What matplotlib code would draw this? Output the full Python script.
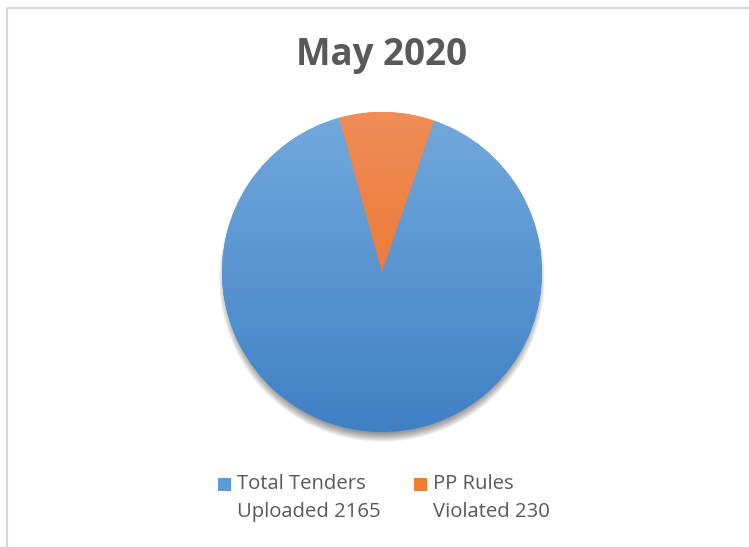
import numpy as np
import matplotlib.pyplot as plt
from matplotlib.patches import Circle, Rectangle
import matplotlib.colors as mcolors

# data
labels = ['Total Tenders\nUploaded 2165', 'PP Rules\nViolated 230']
values = [2165, 230]
colors_top = ['#72a9dc', '#f08d58']
colors_bot = ['#3f80c5', '#e8691a']
legend_colors = ['#5b9bd5', '#ed7d31']
title = 'May 2020'

W, H = 749, 547
fig = plt.figure(figsize=(W / 100, H / 100), dpi=100)
ax = fig.add_axes([0, 0, 1, 1])
ax.set_xlim(0, W)
ax.set_ylim(0, H)
ax.set_aspect('equal')
ax.axis('off')

cx, cy, r = 382, H - 272, 160

# soft shadow under the pie
for i in range(16):
    ax.add_patch(Circle((cx, cy - 7), r + 3 - i * 0.7, color='black',
                        alpha=0.035, lw=0, zorder=1))

wedges, _ = ax.pie(values, radius=r, center=(cx, cy), startangle=71,
                   counterclock=False, frame=True,
                   wedgeprops=dict(linewidth=0), colors=legend_colors)
ax.set_xlim(0, W)
ax.set_ylim(0, H)
ax.axis('off')

# vertical gradients clipped to each wedge
for w, ct, cb in zip(wedges, colors_top, colors_bot):
    cmap = mcolors.LinearSegmentedColormap.from_list('g', [cb, ct])
    grad = np.linspace(0, 1, 256).reshape(-1, 1)
    im = ax.imshow(grad, cmap=cmap, origin='lower', aspect='auto',
                   extent=[cx - r, cx + r, cy - r, cy + r], zorder=3)
    im.set_clip_path(w)
    w.set_zorder(2)

ax.set_xlim(0, W)
ax.set_ylim(0, H)

# chart border (left and top only visible)
ax.plot([6.5, 6.5, W], [0, H - 7.5, H - 7.5], color='#d9d9d9', lw=1.5,
        solid_joinstyle='miter', zorder=5)

ax.text(382, H - 55, title, ha='center', va='center', fontsize=26.5,
        fontweight='bold', color='#595959', family='Open Sans')

# legend
lx = [218, 414]
for x0, lab, c in zip(lx, labels, legend_colors):
    ax.add_patch(Rectangle((x0, H - 491), 13, 13, color=c, lw=0, zorder=5))
    l1, l2 = lab.split('\n')
    ax.text(x0 + 19, H - 484, l1, ha='left', va='center', fontsize=14.6,
            color='#595959', family='Open Sans')
    ax.text(x0 + 19, H - 512, l2, ha='left', va='center', fontsize=14.6,
            color='#595959', family='Open Sans')

fig.savefig('out.png', dpi=100)
